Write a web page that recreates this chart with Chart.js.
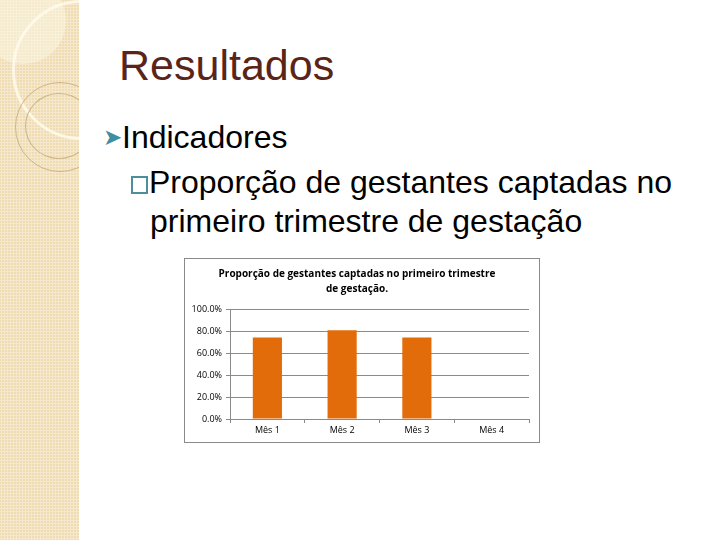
<!DOCTYPE html>
<html>
<head>
<meta charset="utf-8">
<script src="https://cdn.jsdelivr.net/npm/chart.js@4/dist/chart.umd.min.js"></script>
<style>
  html,body{margin:0;padding:0;background:#fff;}
  #slide{position:relative;width:720px;height:540px;overflow:hidden;background:#fff;font-family:"Liberation Sans",Arial,sans-serif;}
  #band{position:absolute;left:0;top:0;width:79px;height:540px;overflow:hidden;
    background-color:#efdcb2;
    background-image:radial-gradient(rgba(255,255,255,0.35) 1px, transparent 1.2px);
    background-size:3px 3px;}
  .circ{position:absolute;border-radius:50%;}
  #title{position:absolute;left:119px;top:41px;font-size:43px;color:#5a2518;white-space:nowrap;}
  .line{position:absolute;font-size:32px;color:#000;white-space:nowrap;}
  #chartbox{position:absolute;left:184px;top:258px;width:354px;height:183px;border:1px solid #8a8a8a;background:#fff;}
</style>
</head>
<body>
<div id="slide">
  <div id="band">
    <div class="circ" style="left:-20px;top:-22px;width:86px;height:86px;background:rgba(255,250,235,0.45);"></div>
    <div class="circ" style="left:12px;top:0px;width:134px;height:134px;border:3px solid rgba(255,250,235,0.85);"></div>
    <div class="circ" style="left:15px;top:82px;width:88px;height:88px;border:1px solid rgba(190,160,110,0.7);"></div>
    <div class="circ" style="left:25px;top:93px;width:66px;height:64px;border:1px solid rgba(190,160,110,0.7);"></div>
  </div>
  <div id="title">Resultados</div>
  <div class="line" style="left:103px;top:119px;"><span style="color:#3f8ea0;font-size:23px;vertical-align:3px;">&#10148;</span>Indicadores</div>
  <div class="line" style="left:131px;top:164px;"><span style="display:inline-block;width:13px;height:14px;border:2px solid #4d8e9c;margin-right:1px;vertical-align:-1px;"></span>Proporção de gestantes captadas no</div>
  <div class="line" style="left:150px;top:203px;">primeiro trimestre de gestação</div>
  <div id="chartbox"><canvas id="c" width="354" height="183"></canvas></div>
</div>
<script>
const categories = ["Mês 1", "Mês 2", "Mês 3", "Mês 4"];
const values = [74.2, 80.6, 74.2, null];
const yTicks = [0, 20, 40, 60, 80, 100];
const chartTitle = ["Proporção de gestantes captadas no primeiro trimestre", "de gestação."];

new Chart(document.getElementById('c'), {
  type: 'bar',
  data: {
    labels: categories,
    datasets: [{
      data: values,
      backgroundColor: '#e36c0a',
      borderWidth: 0,
      categoryPercentage: 1,
      barPercentage: 0.39
    }]
  },
  options: {
    responsive: false,
    animation: false,
    layout: { padding: { left: 0, right: 10, top: 0, bottom: 0 } },
    plugins: {
      legend: { display: false },
      tooltip: { enabled: false },
      title: {
        display: true,
        text: chartTitle,
        color: '#000',
        font: { family: 'Open Sans', size: 10, weight: 'bold', lineHeight: 1.5 },
        padding: { top: 8, bottom: 12 }
      }
    },
    scales: {
      x: {
        grid: { display: true, drawOnChartArea: false, drawTicks: true, tickLength: 4, color: '#8a8a8a', offset: true },
        border: { display: true, color: '#8a8a8a', width: 1 },
        ticks: { color: '#000', font: { family: 'Open Sans', size: 9 }, padding: 2, maxRotation: 0 },
        afterFit: (s) => { s.height = 23; }
      },
      y: {
        min: 0, max: 100,
        afterBuildTicks: (s) => { s.ticks = yTicks.map(v => ({ value: v })); },
        grid: { color: '#8a8a8a', tickLength: 4, drawTicks: true },
        border: { display: true, color: '#8a8a8a', width: 1 },
        ticks: { color: '#000', font: { family: 'Open Sans', size: 9 }, padding: 4,
          callback: (v) => v.toFixed(1) + '%' },
        afterFit: (s) => { s.width = 45; }
      }
    }
  }
});
</script>
</body>
</html>
